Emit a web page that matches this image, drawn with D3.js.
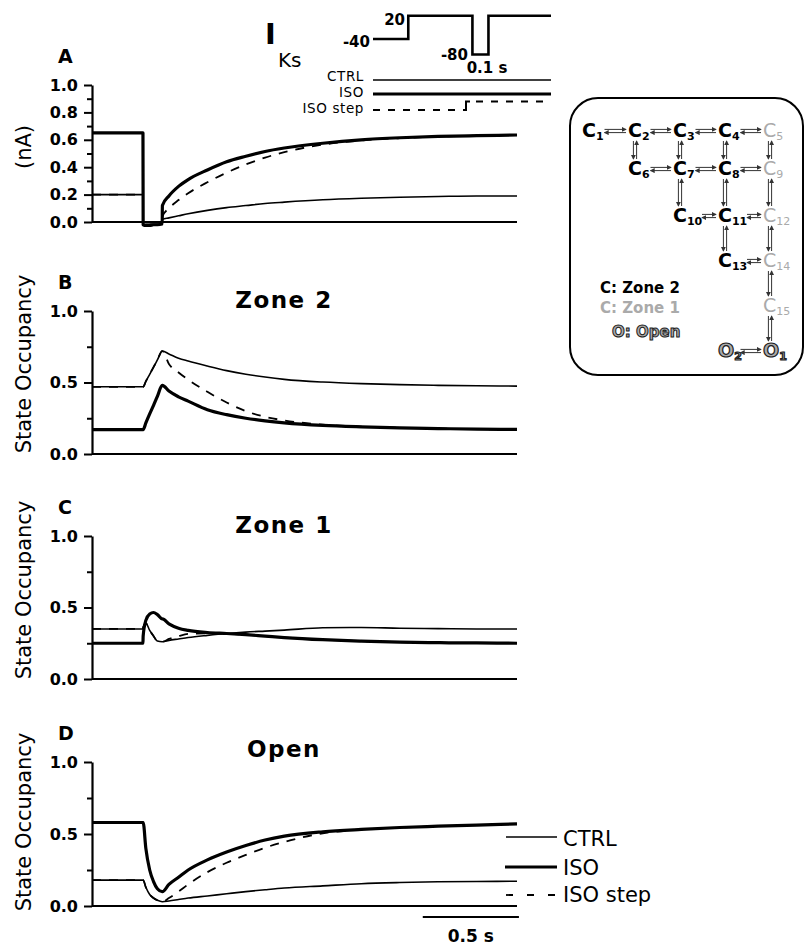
<!DOCTYPE html>
<html><head><meta charset="utf-8">
<script src="https://cdn.jsdelivr.net/npm/d3@7"></script>
<style>
body{margin:0;background:#fff}
svg{display:block;font-family:"DejaVu Sans",sans-serif}
</style></head><body>
<svg id="fig" width="805" height="946"></svg>
<script>
// shared time grid (s) for every trace
var T = [0, 0.265, 0.266, 0.28, 0.3, 0.32, 0.34, 0.365, 0.366, 0.4, 0.45, 0.5, 0.6, 0.7, 0.8, 0.9, 1.0, 1.2, 1.4, 1.6, 1.8, 2.0, 2.21];

// A: IKs current (nA)
var ctrlA = [0.2, 0.2, 0.0, -0.005, -0.005, -0.005, -0.005, -0.005, 0.02, 0.03, 0.045, 0.06, 0.085, 0.105, 0.12, 0.135, 0.145, 0.162, 0.173, 0.181, 0.186, 0.19, 0.19];
var isoA  = [0.65, 0.65, -0.02, -0.025, -0.025, -0.02, -0.02, -0.015, 0.12, 0.19, 0.26, 0.31, 0.38, 0.44, 0.48, 0.515, 0.54, 0.575, 0.6, 0.615, 0.625, 0.63, 0.635];
var stepA = [0.2, 0.2, 0.0, -0.005, -0.005, -0.005, -0.005, -0.005, 0.04, 0.1, 0.16, 0.21, 0.29, 0.36, 0.42, 0.47, 0.51, 0.565, 0.595, 0.612, 0.623, 0.63, 0.635];

// B: zone 2 occupancy
var ctrlB = [0.47, 0.47, 0.47, 0.5075, 0.5575, 0.6075, 0.6575, 0.72, 0.72, 0.7, 0.67, 0.65, 0.615, 0.583, 0.558, 0.538, 0.522, 0.503, 0.492, 0.485, 0.48, 0.477, 0.475];
var isoB  = [0.17, 0.17, 0.17, 0.217, 0.28, 0.34, 0.403, 0.48, 0.48, 0.44, 0.4, 0.37, 0.31, 0.275, 0.25, 0.232, 0.218, 0.2, 0.19, 0.183, 0.178, 0.174, 0.172];
var stepB = [0.47, 0.47, 0.47, 0.5075, 0.5575, 0.6075, 0.6575, 0.72, 0.72, 0.63, 0.57, 0.52, 0.435, 0.36, 0.3, 0.26, 0.235, 0.205, 0.192, 0.184, 0.178, 0.174, 0.172];

// C: zone 1 occupancy
var ctrlC = [0.35, 0.35, 0.36, 0.39, 0.34, 0.3, 0.265, 0.26, 0.26, 0.27, 0.28, 0.29, 0.305, 0.318, 0.328, 0.335, 0.342, 0.358, 0.36, 0.355, 0.352, 0.35, 0.35];
var isoC  = [0.25, 0.25, 0.3, 0.41, 0.455, 0.465, 0.45, 0.42, 0.42, 0.385, 0.355, 0.34, 0.325, 0.318, 0.31, 0.3, 0.29, 0.275, 0.265, 0.258, 0.254, 0.252, 0.25];
var stepC = [0.35, 0.35, 0.36, 0.39, 0.34, 0.3, 0.265, 0.26, 0.26, 0.28, 0.3, 0.315, 0.32, 0.316, 0.31, 0.3, 0.29, 0.275, 0.265, 0.258, 0.254, 0.252, 0.25];

// D: open occupancy
var ctrlD = [0.18, 0.18, 0.18, 0.13, 0.08, 0.055, 0.04, 0.03, 0.03, 0.035, 0.045, 0.055, 0.07, 0.085, 0.1, 0.113, 0.125, 0.14, 0.155, 0.163, 0.168, 0.17, 0.172];
var isoD  = [0.58, 0.58, 0.58, 0.4, 0.25, 0.17, 0.12, 0.1, 0.1, 0.15, 0.2, 0.25, 0.32, 0.375, 0.42, 0.458, 0.485, 0.515, 0.532, 0.545, 0.554, 0.562, 0.57];
var stepD = [0.18, 0.18, 0.18, 0.13, 0.08, 0.055, 0.04, 0.03, 0.03, 0.055, 0.1, 0.15, 0.235, 0.3, 0.355, 0.405, 0.445, 0.505, 0.53, 0.544, 0.554, 0.562, 0.57];

// voltage protocol (schematic), mV
var protoT = [0, 0.22, 0.22, 0.62, 0.62, 0.72, 0.72, 1.11];
var protoV = [-40, -40, 20, 20, -80, -80, 20, 20];

var ticksA = [0, 0.2, 0.4, 0.6, 0.8, 1.0];
var minorA = [0.1, 0.3, 0.5, 0.7, 0.9];
var ticksOcc = [0, 0.5, 1.0];
var minorOcc = [0.25, 0.75];

// Markov model states: col, row, zone (2 = zone 2, 1 = zone 1, 0 = open)
var states = [
  {n: "1", c: 0, r: 0, z: 2}, {n: "2", c: 1, r: 0, z: 2}, {n: "3", c: 2, r: 0, z: 2}, {n: "4", c: 3, r: 0, z: 2}, {n: "5", c: 4, r: 0, z: 1},
  {n: "6", c: 1, r: 1, z: 2}, {n: "7", c: 2, r: 1, z: 2}, {n: "8", c: 3, r: 1, z: 2}, {n: "9", c: 4, r: 1, z: 1},
  {n: "10", c: 2, r: 2, z: 2}, {n: "11", c: 3, r: 2, z: 2}, {n: "12", c: 4, r: 2, z: 1},
  {n: "13", c: 3, r: 3, z: 2}, {n: "14", c: 4, r: 3, z: 1},
  {n: "15", c: 4, r: 4, z: 1},
  {n: "2", c: 3, r: 5, z: 0, o: true}, {n: "1", c: 4, r: 5, z: 0, o: true}
];
var links = [[0,1],[1,2],[2,3],[3,4],[5,6],[6,7],[7,8],[9,10],[10,11],[12,13],[15,16],
             [1,5],[2,6],[3,7],[4,8],[6,9],[7,10],[8,11],[10,12],[11,13],[13,14],[14,16]];

var svg = d3.select("#fig");

var x = d3.scaleLinear().domain([0, 2.21]).range([92, 517]);

var panels = [
  {letter: "A", ctrl: ctrlA, iso: isoA, step: stepA, top: 85, bottom: 222, ticks: ticksA, minor: minorA, ylab: "(nA)", ylabY: 147, title: null},
  {letter: "B", ctrl: ctrlB, iso: isoB, step: stepB, top: 311, bottom: 454, ticks: ticksOcc, minor: minorOcc, ylab: "State Occupancy", ylabY: 364, title: "Zone 2", titleY: 308},
  {letter: "C", ctrl: ctrlC, iso: isoC, step: stepC, top: 536, bottom: 679, ticks: ticksOcc, minor: minorOcc, ylab: "State Occupancy", ylabY: 590, title: "Zone 1", titleY: 533},
  {letter: "D", ctrl: ctrlD, iso: isoD, step: stepD, top: 762, bottom: 906, ticks: ticksOcc, minor: minorOcc, ylab: "State Occupancy", ylabY: 822, title: "Open", titleY: 757}
];

panels.forEach(function(p) {
  var y = d3.scaleLinear().domain([0, 1]).range([p.bottom, p.top]);
  var g = svg.append("g");

  var yAxis = d3.axisLeft(y).tickValues(p.ticks).tickSize(8).tickSizeOuter(0).tickPadding(6).tickFormat(d3.format(".1f"));
  var ga = g.append("g").attr("transform", "translate(92,0)").call(yAxis);
  ga.select(".domain").attr("stroke-width", 2.2);
  ga.selectAll(".tick line").attr("stroke-width", 2);
  ga.selectAll(".tick text").attr("font-size", 16).attr("font-weight", "bold").attr("font-family", "DejaVu Sans");
  var gm = g.append("g").attr("transform", "translate(92,0)")
    .call(d3.axisLeft(y).tickValues(p.minor).tickSize(5).tickSizeOuter(0).tickFormat(""));
  gm.select(".domain").remove();
  gm.selectAll(".tick line").attr("stroke-width", 2);

  g.append("line").attr("x1", x(0)).attr("x2", x(2.21)).attr("y1", y(0)).attr("y2", y(0))
    .attr("stroke", "#000").attr("stroke-width", 2.2);

  var line = d3.line().curve(d3.curveMonotoneX)
    .x(function(d, i) { return x(T[i]); }).y(function(d) { return y(d); });

  g.append("path").attr("d", line(p.ctrl)).attr("fill", "none").attr("stroke", "#000").attr("stroke-width", 1.6);
  g.append("path").attr("d", line(p.step)).attr("fill", "none").attr("stroke", "#000").attr("stroke-width", 1.8)
    .attr("stroke-dasharray", "9,8");
  g.append("path").attr("d", line(p.iso)).attr("fill", "none").attr("stroke", "#000").attr("stroke-width", 3.2)
    .attr("stroke-linejoin", "round");

  g.append("text").attr("x", 58).attr("y", p.top - 22).attr("font-size", 19).attr("font-weight", "bold").text(p.letter);
  g.append("text").attr("transform", "translate(31," + p.ylabY + ") rotate(-90)").attr("text-anchor", "middle")
    .attr("font-size", 21).text(p.ylab);
  if (p.title) {
    g.append("text").attr("x", 284).attr("y", p.titleY).attr("text-anchor", "middle")
      .attr("font-size", 23).attr("font-weight", "bold").attr("letter-spacing", 1.5).text(p.title);
  }
});

// I_Ks title
svg.append("text").attr("x", 265).attr("y", 44).attr("font-size", 29).attr("font-weight", "bold").text("I");
svg.append("text").attr("x", 278).attr("y", 67).attr("font-size", 20).text("Ks");

// voltage protocol
var px = d3.scaleLinear().domain([0, 1.11]).range([373, 551]);
var pv = d3.scaleLinear().domain([-80, 20]).range([54.5, 15.7]);
svg.append("path")
  .attr("d", d3.line().x(function(d, i) { return px(protoT[i]); }).y(function(d) { return pv(d); })(protoV))
  .attr("fill", "none").attr("stroke", "#000").attr("stroke-width", 2.6);
svg.append("text").attr("x", 370).attr("y", 47).attr("text-anchor", "end").attr("font-size", 15).attr("font-weight", "bold").text("-40");
svg.append("text").attr("x", 405).attr("y", 25).attr("text-anchor", "end").attr("font-size", 15).attr("font-weight", "bold").text("20");
svg.append("text").attr("x", 468).attr("y", 60).attr("text-anchor", "end").attr("font-size", 15).attr("font-weight", "bold").text("-80");
svg.append("text").attr("x", 487).attr("y", 73).attr("text-anchor", "middle").attr("font-size", 15).attr("font-weight", "bold").text("0.1 s");

// top legend
var tl = svg.append("g");
tl.append("line").attr("x1", 373).attr("x2", 551).attr("y1", 80).attr("y2", 80).attr("stroke", "#000").attr("stroke-width", 1.5);
tl.append("line").attr("x1", 373).attr("x2", 551).attr("y1", 94).attr("y2", 94).attr("stroke", "#000").attr("stroke-width", 3);
tl.append("line").attr("x1", 373).attr("x2", 458).attr("y1", 110).attr("y2", 110).attr("stroke", "#000").attr("stroke-width", 2).attr("stroke-dasharray", "7,8");
tl.append("path").attr("d", "M463,110 H466 V101.5 H470").attr("fill", "none").attr("stroke", "#000").attr("stroke-width", 2);
tl.append("line").attr("x1", 476).attr("x2", 551).attr("y1", 101.5).attr("y2", 101.5).attr("stroke", "#000").attr("stroke-width", 2).attr("stroke-dasharray", "7,8");
[["CTRL", 81], ["ISO", 97], ["ISO step", 113]].forEach(function(d) {
  tl.append("text").attr("x", 364).attr("y", d[1]).attr("text-anchor", "end").attr("font-size", 13.5)
    .attr("letter-spacing", 0.6).text(d[0]);
});

// bottom legend (panel D)
var bl = svg.append("g");
bl.append("line").attr("x1", 506).attr("x2", 557).attr("y1", 837).attr("y2", 837).attr("stroke", "#000").attr("stroke-width", 1.6);
bl.append("line").attr("x1", 505).attr("x2", 557).attr("y1", 867).attr("y2", 867).attr("stroke", "#000").attr("stroke-width", 3.2);
bl.append("line").attr("x1", 506).attr("x2", 557).attr("y1", 895).attr("y2", 895).attr("stroke", "#000").attr("stroke-width", 1.8).attr("stroke-dasharray", "7,14");
[["CTRL", 846], ["ISO", 875], ["ISO step", 902]].forEach(function(d) {
  bl.append("text").attr("x", 563).attr("y", d[1]).attr("font-size", 21).text(d[0]);
});

// time scale bar
svg.append("line").attr("x1", x(1.72)).attr("x2", x(2.22)).attr("y1", 917).attr("y2", 917).attr("stroke", "#000").attr("stroke-width", 2.2);
svg.append("text").attr("x", (x(1.72) + x(2.22)) / 2).attr("y", 942).attr("text-anchor", "middle")
  .attr("font-size", 17).attr("font-weight", "bold").text("0.5 s");

// state diagram
var colX = [582, 628, 673, 718, 763];
var rowY = [137, 175, 222, 267, 312, 357];
var dg = svg.append("g");
dg.append("rect").attr("x", 570).attr("y", 98).attr("width", 233).attr("height", 277).attr("rx", 28)
  .attr("fill", "none").attr("stroke", "#000").attr("stroke-width", 2);

var defs = svg.append("defs");
defs.append("marker").attr("id", "ah").attr("viewBox", "0 0 6 6").attr("refX", 5).attr("refY", 3)
  .attr("markerWidth", 5).attr("markerHeight", 5).attr("orient", "auto-start-reverse")
  .append("path").attr("d", "M0,0 L6,3 L0,6 Z").attr("fill", "#333");

function stateW(s) { return 15 + s.n.length * 6.5; }

links.forEach(function(l) {
  var a = states[l[0]], b = states[l[1]];
  var x1, y1, x2, y2, dx = 0, dy = 0;
  if (a.r === b.r) {
    x1 = colX[a.c] + stateW(a) + 1; x2 = colX[b.c] - 2;
    y1 = y2 = rowY[a.r] - 6; dy = 1.6;
  } else {
    x1 = x2 = colX[a.c] + 7;
    y1 = rowY[a.r] + 4; y2 = rowY[b.r] - 16; dx = 1.6;
  }
  dg.append("line").attr("x1", x1 - dx).attr("y1", y1 - dy).attr("x2", x2 - dx).attr("y2", y2 - dy)
    .attr("stroke", "#333").attr("stroke-width", 1).attr("marker-end", "url(#ah)");
  dg.append("line").attr("x1", x1 + dx).attr("y1", y1 + dy).attr("x2", x2 + dx).attr("y2", y2 + dy)
    .attr("stroke", "#333").attr("stroke-width", 1).attr("marker-start", "url(#ah)");
});

states.forEach(function(s) {
  var t = dg.append("text").attr("x", colX[s.c]).attr("y", rowY[s.r]);
  if (s.z === 2) t.attr("fill", "#000").attr("font-weight", "bold");
  else if (s.z === 1) t.attr("fill", "#aaa");
  else t.attr("fill", "#aaa").attr("stroke", "#222").attr("stroke-width", 1.2).attr("font-weight", "bold");
  t.append("tspan").attr("font-size", 19).text(s.o ? "O" : "C");
  t.append("tspan").attr("font-size", 11).attr("dy", 3).text(s.n);
});

dg.append("text").attr("x", 600).attr("y", 293).attr("font-size", 15).attr("font-weight", "bold").attr("fill", "#000").text("C: Zone 2");
dg.append("text").attr("x", 600).attr("y", 313).attr("font-size", 15).attr("font-weight", "bold").attr("fill", "#aaa").text("C: Zone 1");
dg.append("text").attr("x", 612).attr("y", 337).attr("font-size", 15).attr("font-weight", "bold")
  .attr("fill", "#aaa").attr("stroke", "#222").attr("stroke-width", 1).text("O: Open");
</script>
</body></html>
